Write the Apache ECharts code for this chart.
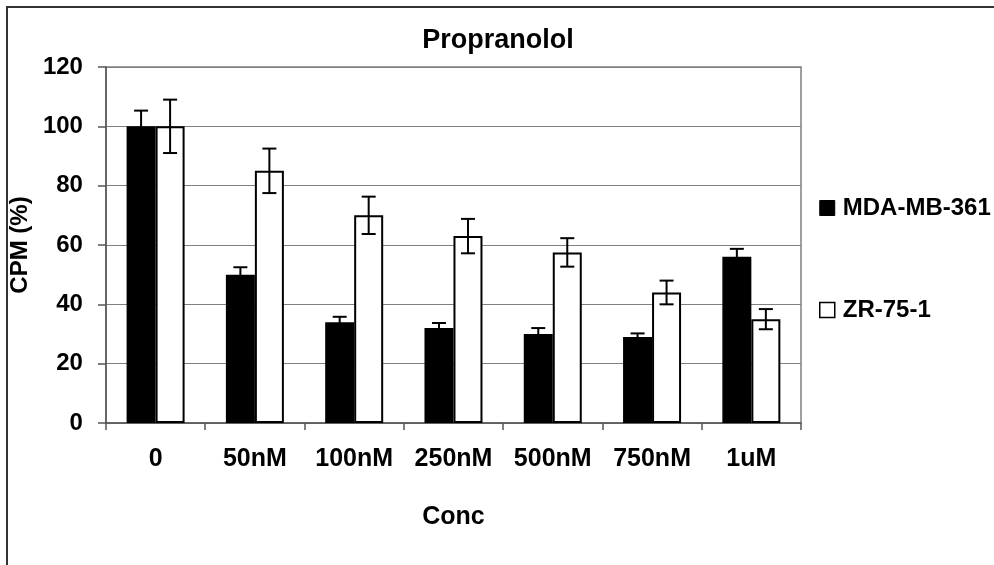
<!DOCTYPE html>
<html>
<head>
<meta charset="utf-8">
<script src="https://cdn.jsdelivr.net/npm/echarts@6/dist/echarts.min.js"></script>
<style>
  html, body { margin: 0; padding: 0; background: #fff; }
  #chart { width: 994px; height: 565px; }
</style>
</head>
<body>
<div id="chart"></div>
<script>
// Concentrations tested
const categories = ['0', '50nM', '100nM', '250nM', '500nM', '750nM', '1uM'];

// Mean CPM (% of control) per cell line
const mdaValues = [100, 50, 34, 32, 30, 29, 56];
const zrValues  = [100, 85, 70, 63, 57.5, 44, 35];

// Error (+/-) for each mean
const mdaErrors = [5.3, 2.5, 1.8, 1.7, 2, 1.2, 2.7];
const zrErrors  = [9, 7.5, 6.3, 5.8, 4.8, 4, 3.4];

const seriesNames = ['MDA-MB-361', 'ZR-75-1'];
const yTicks = { min: 0, max: 120, interval: 20 };

const FONT = 'Arial, "Liberation Sans", sans-serif';
const BAR_W = 29;

// Error bars drawn on top of a bar; side = -1 for first bar of the pair, +1 for second
function errorBarRenderer(values, errors, side) {
  return function (params, api) {
    const i = api.value(0);
    const center = api.coord([i, values[i]]);
    const hi = api.coord([i, values[i] + errors[i]]);
    const lo = api.coord([i, values[i] - errors[i]]);
    const x = center[0] + side * BAR_W / 2;
    const cap = 7;
    const style = { stroke: '#000', lineWidth: 2 };
    return {
      type: 'group',
      children: [
        { type: 'line', shape: { x1: x, y1: hi[1], x2: x, y2: lo[1] }, style },
        { type: 'line', shape: { x1: x - cap, y1: hi[1], x2: x + cap, y2: hi[1] }, style },
        { type: 'line', shape: { x1: x - cap, y1: lo[1], x2: x + cap, y2: lo[1] }, style }
      ]
    };
  };
}

const chart = echarts.init(document.getElementById('chart'), null, { renderer: 'canvas' });

chart.setOption({
  animation: false,
  backgroundColor: '#fff',
  textStyle: { fontFamily: FONT },
  title: {
    text: 'Propranolol',
    left: 493,
    top: 22,
    textAlign: 'center',
    textStyle: { fontFamily: FONT, fontSize: 27, fontWeight: 'bold', color: '#000' }
  },
  legend: {
    orient: 'vertical',
    left: 819,
    top: 196,
    itemWidth: 15,
    itemHeight: 15,
    itemGap: 78,
    padding: 0,
    icon: 'rect',
    textStyle: { fontFamily: FONT, fontSize: 24, fontWeight: 'bold', color: '#000', padding: [0, 0, 0, 3] },
    data: [
      { name: seriesNames[0], itemStyle: { color: '#000', borderColor: '#000', borderWidth: 1 } },
      { name: seriesNames[1], itemStyle: { color: '#fff', borderColor: '#000', borderWidth: 1.5 } }
    ]
  },
  grid: {
    left: 103, right: 193, top: 67, bottom: 142,
    show: true, borderColor: '#808080', borderWidth: 1.5
  },
  xAxis: {
    type: 'category',
    data: categories,
    name: 'Conc',
    nameLocation: 'middle',
    nameGap: 82,
    nameTextStyle: { fontFamily: FONT, fontSize: 25, fontWeight: 'bold', color: '#000' },
    axisLine: { lineStyle: { color: '#555', width: 1.5 } },
    axisTick: { show: true, interval: 0, length: 7, lineStyle: { color: '#555', width: 1.5 } },
    axisLabel: {
      interval: 0, hideOverlap: false, margin: 24,
      fontFamily: FONT, fontSize: 25, fontWeight: 'bold', color: '#000'
    },
    splitLine: { show: false }
  },
  yAxis: {
    type: 'value',
    min: yTicks.min,
    max: yTicks.max,
    interval: yTicks.interval,
    name: 'CPM (%)',
    nameLocation: 'middle',
    nameGap: 68,
    nameRotate: 90,
    nameTextStyle: { fontFamily: FONT, fontSize: 24, fontWeight: 'bold', color: '#000' },
    axisLine: { show: true, lineStyle: { color: '#555', width: 1.5 } },
    axisTick: { show: true, length: 8, lineStyle: { color: '#555', width: 1.5 } },
    axisLabel: { margin: 23, fontFamily: FONT, fontSize: 24, fontWeight: 'bold', color: '#000' },
    splitLine: { show: true, lineStyle: { color: '#808080', width: 1.2 } }
  },
  graphic: [
    {
      type: 'rect',
      shape: { x: 7, y: 7, width: 1200, height: 800 },
      style: { fill: 'none', stroke: '#333', lineWidth: 2 },
      silent: true
    }
  ],
  series: [
    {
      name: seriesNames[0],
      type: 'bar',
      data: mdaValues,
      barWidth: BAR_W,
      barGap: '0%',
      itemStyle: { color: '#000', borderColor: '#000', borderWidth: 0 },
      z: 2
    },
    {
      name: seriesNames[1],
      type: 'bar',
      data: zrValues,
      barWidth: BAR_W,
      barGap: '0%',
      itemStyle: { color: '#fff', borderColor: '#000', borderWidth: 2 },
      z: 2
    },
    {
      type: 'custom',
      data: mdaValues.map((v, i) => [i, v]),
      renderItem: errorBarRenderer(mdaValues, mdaErrors, -1),
      z: 5,
      silent: true
    },
    {
      type: 'custom',
      data: zrValues.map((v, i) => [i, v]),
      renderItem: errorBarRenderer(zrValues, zrErrors, 1),
      z: 5,
      silent: true
    }
  ]
});
</script>
</body>
</html>
